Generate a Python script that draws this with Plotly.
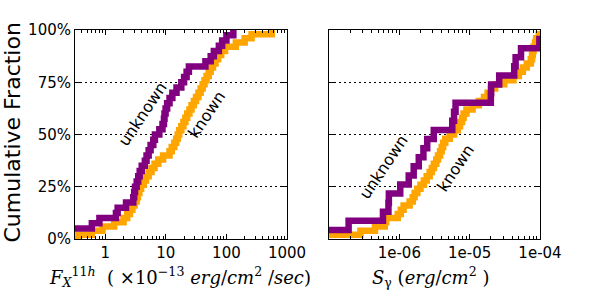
import numpy as np
import plotly.graph_objects as go

# ---- data ----
# Left panel: F_X^{11h} (x1e-13 erg/cm^2/sec), sorted sample values
flux_unknown = [0.2, 0.25, 0.6, 0.8, 1.5, 1.6, 2.2, 2.9, 3.0, 3.1, 3.3, 3.5, 3.7, 4.0,
                4.5, 4.8, 5.2, 5.6, 6.2, 6.6, 7.8, 8.8, 9.3, 9.5, 9.9, 10.5, 11.5, 12.8,
                15, 18, 20, 22, 24, 45, 55, 62, 75, 85, 100, 130]
flux_known = [0.36, 0.6, 0.9, 1.4, 2.0, 2.3, 2.55, 2.8, 3.05, 3.3, 3.45, 3.65, 3.9, 4.3,
              4.7, 5.2, 5.8, 6.5, 7.5, 9.0, 11.5, 12.5, 13.8, 14.8, 15.7, 16.6, 18, 19.5,
              21, 22.5, 24.5, 26.5, 29, 31.5, 34.5, 37.5, 40.5, 43.5, 47, 51, 55, 60, 66,
              73, 82, 95, 143, 200, 260, 560]
# Right panel: S_gamma (erg/cm^2), sorted sample values
sg_unknown = [5e-8, 1.9e-7, 5.85e-7, 7.0e-7, 7.1e-7, 1.03e-6, 1.36e-6, 1.6e-6, 1.89e-6,
              2.2e-6, 2.49e-6, 3.09e-6, 5.66e-6, 6.0e-6, 6.3e-6, 2.0e-5, 2.02e-5, 2.63e-5,
              4.3e-5, 4.5e-5, 5.37e-5, 9.8e-5, 2e-4]
sg_known = [8e-8, 2.8e-7, 4.5e-7, 6.2e-7, 6.5e-7, 9.5e-7, 1.05e-6, 1.15e-6, 1.4e-6, 1.55e-6,
            1.65e-6, 1.8e-6, 2.0e-6, 2.23e-6, 2.45e-6, 2.7e-6, 2.9e-6, 3.1e-6, 3.35e-6,
            3.55e-6, 3.8e-6, 4.0e-6, 4.2e-6, 4.5e-6, 5.2e-6, 6.0e-6, 6.8e-6, 7.3e-6, 7.8e-6,
            8.2e-6, 9.0e-6, 1.1e-5, 1.35e-5, 1.6e-5, 1.8e-5, 2.0e-5, 2.3e-5, 3.1e-5, 4.2e-5,
            5.0e-5, 5.7e-5, 6.5e-5, 7.4e-5, 7.7e-5, 7.9e-5, 8.1e-5, 8.5e-5, 8.8e-5, 9.6e-5,
            1.1e-4]

left_range = [-0.5, 3]
right_range = [-7, -4]
left_ticks = [1, 10, 100, 1000]
left_ticktext = ["1", "10", "100", "1000"]
right_ticks = [1e-6, 1e-5, 1e-4]
right_ticktext = ["1e-06", "1e-05", "1e-04"]
y_ticks = [0, 0.25, 0.5, 0.75, 1.0]
y_ticktext = ["0%", "25%", "50%", "75%", "100%"]

PURPLE = "#800080"
ORANGE = "#FFA500"


def cdf_xy(values, lo):
    v = np.sort(np.asarray(values, dtype=float))
    n = len(v)
    x = np.concatenate([[lo], v])
    y = np.concatenate([[0.0], np.arange(1, n + 1) / n])
    return x, y


fig = go.Figure()
for vals, col, xa, rng in [
    (flux_known, ORANGE, "x", left_range),
    (flux_unknown, PURPLE, "x", left_range),
    (sg_known, ORANGE, "x2", right_range),
    (sg_unknown, PURPLE, "x2", right_range),
]:
    x, y = cdf_xy(vals, 10 ** (rng[0] - 1))
    fig.add_trace(go.Scatter(x=x, y=y, mode="lines", line=dict(color=col, width=6.5, shape="hv"),
                             xaxis=xa, yaxis="y" if xa == "x" else "y2", showlegend=False,
                             hoverinfo="skip"))

tickfont = dict(family="DejaVu Sans", size=15, color="black")
common_x = dict(type="log", showline=True, linecolor="black", linewidth=1, mirror="ticks",
                ticks="inside", ticklen=5, tickcolor="black", showgrid=False, zeroline=False,
                tickfont=tickfont, automargin=False,
                minor=dict(ticks="inside", ticklen=3, tickcolor="black", dtick="D1",
                           showgrid=False))
common_y = dict(range=[0, 1], showline=True, linecolor="black", linewidth=1, mirror="ticks",
                ticks="inside", ticklen=5, tickcolor="black", tickvals=y_ticks,
                showgrid=True, gridcolor="black", gridwidth=1, griddash="2px,3px",
                zeroline=False, tickfont=tickfont, automargin=False)

fig.update_layout(
    width=600, height=300, autosize=False,
    margin=dict(l=0, r=0, t=0, b=0),
    paper_bgcolor="white", plot_bgcolor="white",
    xaxis=dict(domain=[75 / 600, 287 / 600], range=left_range, tickvals=left_ticks,
               ticktext=left_ticktext, anchor="y", **common_x),
    xaxis2=dict(domain=[329 / 600, 540 / 600], range=right_range, tickvals=right_ticks,
                ticktext=right_ticktext, anchor="y2", **common_x),
    yaxis=dict(domain=[1 - 239 / 300, 1 - 30 / 300], anchor="x", ticktext=y_ticktext,
               **common_y),
    yaxis2=dict(domain=[1 - 239 / 300, 1 - 30 / 300], anchor="x2", showticklabels=False,
                **common_y),
)

fig.add_annotation(text="Cumulative Fraction", x=11.5 / 600, y=1 - 133 / 300, xref="paper",
                   yref="paper", showarrow=False, textangle=-90,
                   font=dict(family="DejaVu Sans", size=22, color="black"),
                   xanchor="center", yanchor="middle")

label_font = dict(family="DejaVu Sans", size=16, color="black")
for txt, x, y in [("unknown", 142 / 600, 1 - 114 / 300), ("known", 207 / 600, 1 - 115 / 300),
                  ("unknown", 383 / 600, 1 - 167 / 300), ("known", 455 / 600, 1 - 168 / 300)]:
    fig.add_annotation(text=txt, x=x, y=y, xref="paper", yref="paper", showarrow=False,
                       textangle=-56, font=label_font, xanchor="center", yanchor="middle")

math_font = dict(family="DejaVu Serif", size=18, color="black")
fig.add_annotation(
    text="<i>F</i><sub><i>X</i></sub><sup>11<i>h</i></sup>  ( ×10<sup>−13</sup> <i>erg</i>/<i>cm</i><sup>2</sup> /<i>sec</i>)",
    x=180 / 600, y=1 - 277 / 300, xref="paper", yref="paper", showarrow=False,
    font=math_font, xanchor="center", yanchor="middle")
fig.add_annotation(
    text="<i>S</i><sub>γ</sub> (<i>erg</i>/<i>cm</i><sup>2</sup> )",
    x=430 / 600, y=1 - 277 / 300, xref="paper", yref="paper", showarrow=False,
    font=math_font, xanchor="center", yanchor="middle")

fig.write_html("out.html", config={"displayModeBar": False},
               post_script="document.body.style.margin='0';document.body.style.overflow='hidden';")
